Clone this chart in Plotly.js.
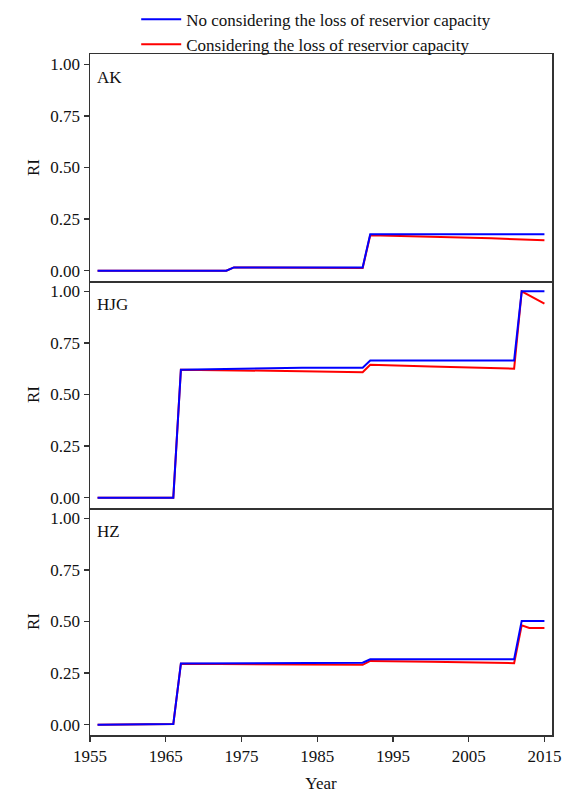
<!DOCTYPE html>
<html>
<head>
<meta charset="utf-8">
<script src="https://cdn.plot.ly/plotly-3.0.1.min.js"></script>
<style>html,body{margin:0;padding:0;background:#fff;}#chart{width:563px;height:799px;}</style>
</head>
<body>
<div id="chart"></div>
<script>
// AK
var akYears = [1956, 1973, 1974, 1982, 1991, 1992, 2000, 2008, 2015];
var akNoLoss = [0, 0, 0.016, 0.016, 0.016, 0.177, 0.177, 0.177, 0.177];
var akLoss   = [0, 0, 0.016, 0.015, 0.013, 0.172, 0.165, 0.157, 0.147];
// HJG
var hjgYears = [1956, 1966, 1967, 1975, 1983, 1991, 1992, 2000, 2011, 2012, 2015];
var hjgNoLoss = [0, 0, 0.620, 0.625, 0.630, 0.630, 0.665, 0.665, 0.665, 1.0, 1.0];
var hjgLoss   = [0, 0, 0.620, 0.618, 0.613, 0.608, 0.644, 0.636, 0.625, 1.0, 0.94];
// HZ
var hzYears = [1956, 1959, 1960, 1966, 1967, 1975, 1983, 1991, 1992, 2000, 2011, 2012, 2013, 2015];
var hzNoLoss = [0, 0, 0.003, 0.003, 0.296, 0.298, 0.300, 0.300, 0.317, 0.317, 0.317, 0.503, 0.503, 0.503];
var hzLoss   = [0, 0, 0.003, 0.003, 0.295, 0.295, 0.292, 0.290, 0.309, 0.305, 0.298, 0.482, 0.469, 0.469];

var panelNames = ['AK', 'HJG', 'HZ'];
var yTicks = [0, 0.25, 0.5, 0.75, 1.0];
var xTicks = [1955, 1965, 1975, 1985, 1995, 2005, 2015];
var seriesNames = ['No considering the loss of reservior capacity', 'Considering the loss of reservior capacity'];

var BLUE = '#0000ff', RED = '#ff0000';
var panels = [[akYears, akNoLoss, akLoss], [hjgYears, hjgNoLoss, hjgLoss], [hzYears, hzNoLoss, hzLoss]];
var traces = [];
panels.forEach(function (p, i) {
  var sfx = i === 0 ? '' : String(i + 1);
  traces.push({x: p[0], y: p[2], mode: 'lines', line: {color: RED, width: 2},
    name: seriesNames[1], showlegend: i === 0, legendrank: 2, xaxis: 'x' + sfx, yaxis: 'y' + sfx});
  traces.push({x: p[0], y: p[1], mode: 'lines', line: {color: BLUE, width: 2},
    name: seriesNames[0], showlegend: i === 0, legendrank: 1, xaxis: 'x' + sfx, yaxis: 'y' + sfx});
});

var FONT = 'Liberation Serif, Times New Roman, serif';
var lineCol = '#333333';
var layout = {
  width: 563, height: 799,
  margin: {l: 90, r: 11, t: 54, b: 64, autoexpand: false},
  paper_bgcolor: '#ffffff', plot_bgcolor: '#ffffff',
  font: {family: FONT, size: 17, color: '#111'},
  showlegend: true,
  legend: {x: 0.1, xanchor: 'left', yref: 'container', y: 0.998, yanchor: 'top', bgcolor: 'rgba(0,0,0,0)',
    font: {family: FONT, size: 17, color: '#111'}, traceorder: 'normal', tracegroupgap: 0, itemwidth: 40},
  annotations: [],
  hovermode: false
};
var domains = [[2/3, 1], [1/3, 2/3], [0, 1/3]];
for (var i = 0; i < 3; i++) {
  var sfx = i === 0 ? '' : String(i + 1);
  layout['xaxis' + sfx] = {
    domain: [0, 1], anchor: 'y' + sfx, range: [1955, 2016],
    tickvals: xTicks, ticktext: xTicks.map(String),
    showticklabels: i === 2, ticks: i === 2 ? 'outside' : '', ticklen: 5, tickwidth: 1.2, tickcolor: lineCol,
    showline: true, linecolor: lineCol, linewidth: 1.5, mirror: i === 0,
    showgrid: false, zeroline: false,
    tickfont: {family: FONT, size: 17, color: '#111'},
    title: i === 2 ? {text: 'Year', font: {family: FONT, size: 17, color: '#111'}, standoff: 12} : {text: ''}
  };
  layout['yaxis' + sfx] = {
    domain: domains[i], anchor: 'x' + sfx, range: [-0.05, 1.05],
    tickvals: yTicks, ticktext: yTicks.map(function (v) { return v.toFixed(2); }),
    ticks: 'outside', ticklen: 5, tickwidth: 1.2, tickcolor: lineCol,
    showline: true, linecolor: lineCol, linewidth: 1.5, mirror: true,
    showgrid: false, zeroline: false,
    tickfont: {family: FONT, size: 17, color: '#111'},
    title: {text: 'RI', font: {family: FONT, size: 17, color: '#111'}, standoff: 6}
  };
  layout.annotations.push({
    text: panelNames[i], xref: 'x' + sfx + ' domain', yref: 'y' + sfx + ' domain',
    x: 0.01, y: 0.895, xanchor: 'left', yanchor: 'middle', showarrow: false,
    font: {family: FONT, size: 17, color: '#111'}
  });
}

Plotly.newPlot('chart', traces, layout, {displayModeBar: false, staticPlot: true});
</script>
</body>
</html>
